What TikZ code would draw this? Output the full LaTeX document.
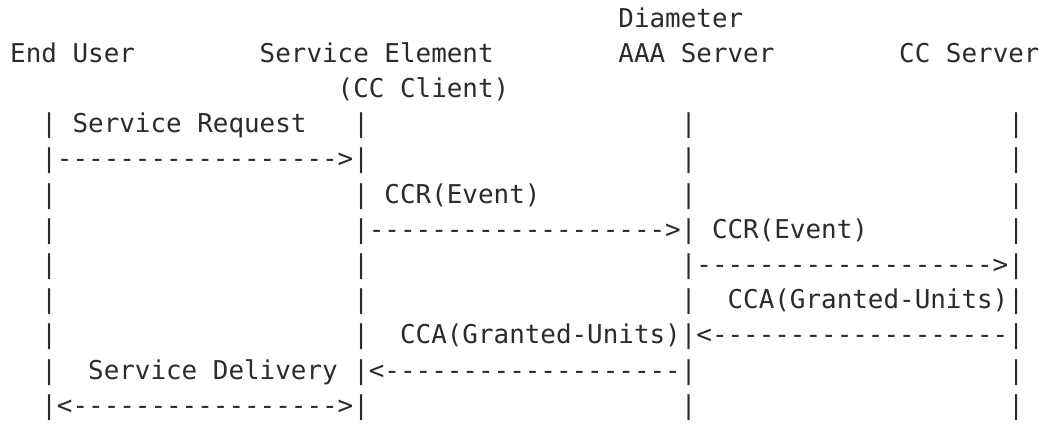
\documentclass[tikz,border=0pt]{standalone}
\usepackage{fontspec}
\setmonofont{DejaVu Sans Mono}
\definecolor{ink}{HTML}{2B2B2B}
\tikzset{
	txt/.style={inner sep=0pt, anchor=base west, text=ink,
		font=\ttfamily\fontsize{10}{12}\selectfont}
}

\begin{document}
\begin{tikzpicture}[x=6.02pt, y=-13.585pt]
	\useasboundingbox (-0.62,-0.77) rectangle (66.0,11.31);
	% column heads
	\node[txt] (diam) at (39,0) {Diameter};
	\node[txt] (user) at (0,1) {End User};
	\node[txt] (elem) at (16,1) {Service Element};
	\node[txt] (aaa) at (39,1) {AAA Server};
	\node[txt] (ccs) at (57,1) {CC Server};
	\node[txt] (client) at (21,2) {(CC Client)};
	% life lines
	\foreach \r in {3,...,11}
	  \foreach \c in {2,22,43,64}
	    \node[txt] (p\c-\r) at (\c,\r) {|};
	% messages
	\node[txt] (req_lbl) at (4,3) {Service Request};
	\node[txt] (req) at (3,4) {------------------>};
	\node[txt] (ccr_lbl) at (24,5) {CCR(Event)};
	\node[txt] (ccr) at (23,6) {------------------->};
	\node[txt] (ccr_fwd_lbl) at (45,6) {CCR(Event)};
	\node[txt] (ccr_fwd) at (44,7) {------------------->};
	\node[txt] (cca_lbl) at (46,8) {CCA(Granted-Units)};
	\node[txt] (cca) at (44,9) {<-------------------};
	\node[txt] (cca_fwd_lbl) at (25,9) {CCA(Granted-Units)};
	\node[txt] (cca_fwd) at (23,10) {<-------------------};
	\node[txt] (dlv_lbl) at (5,10) {Service Delivery};
	\node[txt] (dlv) at (3,11) {<----------------->};
\end{tikzpicture}
\end{document}
